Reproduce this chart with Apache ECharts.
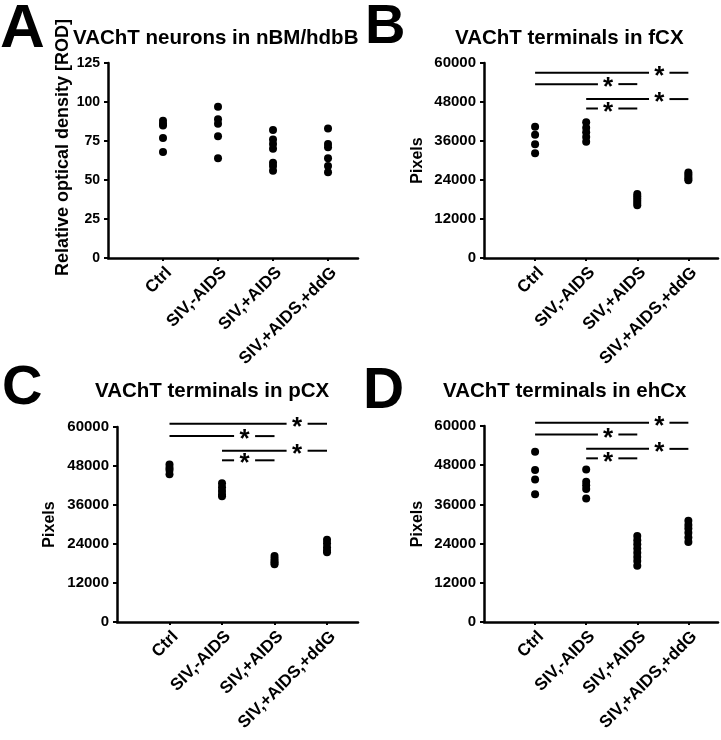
<!DOCTYPE html>
<html>
<head>
<meta charset="utf-8">
<script src="https://cdn.jsdelivr.net/npm/echarts@6/dist/echarts.min.js"></script>
<style>html,body{margin:0;padding:0;background:#fff}#c{width:721px;height:740px}</style>
</head>
<body>
<div id="c"></div>
<script>
const categories = ['Ctrl', 'SIV,-AIDS', 'SIV,+AIDS', 'SIV,+AIDS,+ddG'];

// Panel A: VAChT neurons in nBM/hdbB (ROD)
const aTicks = [0, 25, 50, 75, 100, 125];
const aCtrl = [88, 86, 85, 77, 68];
const aSivNoAids = [97, 89, 86, 78, 64];
const aSivAids = [82, 76, 73, 70, 61, 59, 56];
const aSivAidsDdg = [83, 73, 71, 64, 59, 55];

// Panel B: VAChT terminals in fCX (pixels)
const pixTicks = [0, 12000, 24000, 36000, 48000, 60000];
const bCtrl = [40400, 37900, 35000, 32200];
const bSivNoAids = [41800, 40100, 38700, 37200, 35800];
const bSivAids = [19700, 19000, 18300, 17600, 16900, 16200];
const bSivAidsDdg = [26300, 25700, 25000, 24400, 23900];
const sigB = [[1, 4, 57000], [1, 3, 53500], [2, 4, 48900], [2, 3, 46000]];

// Panel C: VAChT terminals in pCX (pixels)
const cCtrl = [48500, 47500, 46800, 45500];
const cSivNoAids = [42700, 41500, 40300, 39200, 38700];
const cSivAids = [20300, 19500, 18800, 18200, 17800];
const cSivAidsDdg = [25300, 24200, 23000, 22000, 21500];
const sigC = [[1, 4, 61000], [1, 3, 57200], [2, 4, 52700], [2, 3, 49750]];

// Panel D: VAChT terminals in ehCx (pixels)
const dCtrl = [52100, 46500, 43600, 39100];
const dSivNoAids = [46700, 42900, 41900, 40700, 37800];
const dSivAids = [26300, 25000, 23800, 22500, 21200, 19900, 18700, 17200];
const dSivAidsDdg = [31000, 29700, 28600, 27300, 25900, 24500];
const sigD = [[1, 4, 61000], [1, 3, 57400], [2, 4, 53000], [2, 3, 50100]];

const FONT = '"Liberation Sans", Arial, sans-serif';

const panels = [
  { letter: 'A', letterX: 0, letterTop: 3, letterSize: 62,
    title: 'VAChT neurons in nBM/hdbB', titleX: 73, titleY: 38,
    grid: { left: 108, top: 63, width: 250, height: 195 }, xMax: 4.545,
    ticks: aTicks, yName: 'Relative optical density [ROD]', nameSize: 18, nameGap: 36, namePad: 26, labelSize: 14,
    groups: [aCtrl, aSivNoAids, aSivAids, aSivAidsDdg], sig: [] },
  { letter: 'B', letterX: 365, letterTop: 3, letterSize: 56,
    title: 'VAChT terminals in fCX', titleX: 455, titleY: 38,
    grid: { left: 484, top: 63, width: 234, height: 195 }, xMax: 4.58,
    ticks: pixTicks, yName: 'Pixels', nameSize: 16, nameGap: 58, namePad: 0, labelSize: 15,
    groups: [bCtrl, bSivNoAids, bSivAids, bSivAidsDdg], sig: sigB },
  { letter: 'C', letterX: 2, letterTop: 364, letterSize: 56,
    title: 'VAChT terminals in pCX', titleX: 95, titleY: 391,
    grid: { left: 117, top: 427, width: 241, height: 195 }, xMax: 4.59,
    ticks: pixTicks, yName: 'Pixels', nameSize: 16, nameGap: 59, namePad: 0, labelSize: 15,
    groups: [cCtrl, cSivNoAids, cSivAids, cSivAidsDdg], sig: sigC },
  { letter: 'D', letterX: 363, letterTop: 367, letterSize: 57,
    title: 'VAChT terminals in ehCx', titleX: 443, titleY: 391,
    grid: { left: 484, top: 426, width: 234, height: 196 }, xMax: 4.58,
    ticks: pixTicks, yName: 'Pixels', nameSize: 16, nameGap: 58, namePad: 0, labelSize: 15,
    groups: [dCtrl, dSivNoAids, dSivAids, dSivAidsDdg], sig: sigD }
];

const grids = [], xAxes = [], yAxes = [], series = [], graphics = [];
const STAR_OFFSET = 0.57, HALF_GAP = 0.2;

panels.forEach((p, i) => {
  grids.push(Object.assign({ containLabel: false }, p.grid));
  xAxes.push({
    type: 'value', gridIndex: i, min: 0, max: p.xMax,
    axisLine: { show: true, onZero: false, lineStyle: { color: '#000', width: 2.5 } },
    axisTick: { show: true, customValues: [1, 2, 3, 4], length: 3, lineStyle: { color: '#000', width: 2 } },
    axisLabel: { show: true, customValues: [1, 2, 3, 4], rotate: 45, margin: 6,
      align: 'right', verticalAlign: 'top',
      formatter: v => categories[Math.round(v) - 1] || '',
      color: '#000', fontSize: 17, fontWeight: 'bold', fontFamily: FONT },
    splitLine: { show: false }
  });
  const step = p.ticks[1] - p.ticks[0];
  yAxes.push({
    type: 'value', gridIndex: i, min: p.ticks[0], max: p.ticks[p.ticks.length - 1], interval: step,
    axisLine: { show: true, lineStyle: { color: '#000', width: 2.5 } },
    axisTick: { show: true, length: 4, lineStyle: { color: '#000', width: 2 } },
    axisLabel: { color: '#000', fontSize: p.labelSize, fontWeight: 'bold', fontFamily: FONT, margin: 8,
      formatter: v => String(v) },
    splitLine: { show: false },
    name: p.yName, nameLocation: 'middle', nameGap: p.nameGap,
    nameTextStyle: { color: '#000', fontSize: p.nameSize, fontWeight: 'bold', fontFamily: FONT,
      padding: [0, 0, 0, p.namePad] }
  });
  p.groups.forEach((vals, g) => {
    series.push({
      type: 'scatter', xAxisIndex: i, yAxisIndex: i, symbol: 'circle', symbolSize: 8,
      itemStyle: { color: '#000', opacity: 1 }, silent: true,
      data: vals.map(v => [g + 1, v])
    });
  });
  const stars = [];
  p.sig.forEach(([x1, x2, v]) => {
    const xs = x2 - STAR_OFFSET;
    [[x1, xs - HALF_GAP], [xs + HALF_GAP, x2]].forEach(seg => {
      series.push({
        type: 'line', xAxisIndex: i, yAxisIndex: i, clip: false, symbol: 'none', silent: true,
        lineStyle: { color: '#000', width: 2 },
        data: [[seg[0], v], [seg[1], v]]
      });
    });
    stars.push([xs, v]);
  });
  if (stars.length) {
    series.push({
      type: 'scatter', xAxisIndex: i, yAxisIndex: i, clip: false, symbol: 'circle', symbolSize: 1,
      itemStyle: { color: 'rgba(0,0,0,0)', opacity: 1 }, silent: true,
      label: { show: true, position: 'inside', formatter: '*', color: '#000', opacity: 1, fontSize: 26,
        fontWeight: 'bold', fontFamily: FONT, offset: [0, 4] },
      data: stars
    });
  }
  graphics.push({
    type: 'text', x: p.letterX, y: p.letterTop - p.letterSize * 0.06,
    style: { text: p.letter, fill: '#000', font: 'bold ' + p.letterSize + 'px ' + FONT, verticalAlign: 'top' }
  });
  graphics.push({
    type: 'text', x: p.titleX, y: p.titleY,
    style: { text: p.title, fill: '#000', font: 'bold 20.5px ' + FONT, verticalAlign: 'middle' }
  });
});

const chart = echarts.init(document.getElementById('c'), null, { renderer: 'canvas' });
chart.setOption({
  backgroundColor: '#fff',
  animation: false,
  grid: grids, xAxis: xAxes, yAxis: yAxes, series: series, graphic: graphics
});
</script>
</body>
</html>
